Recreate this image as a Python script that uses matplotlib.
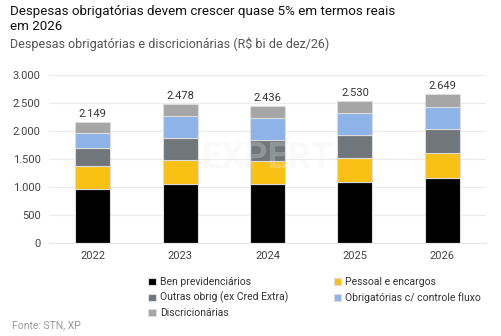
import numpy as np
import matplotlib.pyplot as plt
from matplotlib.ticker import FuncFormatter

plt.rcParams['font.family'] = ['Roboto', 'DejaVu Sans']

years = ["2022", "2023", "2024", "2025", "2026"]
ben_previdenciarios = [965, 1043, 1043, 1090, 1150]
pessoal_encargos = [410, 428, 416, 422, 446]
outras_obrig = [311, 404, 370, 411, 440]
obrig_controle_fluxo = [273, 382, 392, 393, 393]
discricionarias = [190, 221, 215, 214, 220]
totals = [2149, 2478, 2436, 2530, 2649]

series = [
    ("Ben previdenciários", ben_previdenciarios, "#000000"),
    ("Pessoal e encargos", pessoal_encargos, "#F9C114"),
    ("Outras obrig (ex Cred Extra)", outras_obrig, "#70767A"),
    ("Obrigatórias c/ controle fluxo", obrig_controle_fluxo, "#8DB3E8"),
    ("Discricionárias", discricionarias, "#A6A6A6"),
]

fig = plt.figure(figsize=(5.02, 3.36), dpi=100)
ax = fig.add_axes([49 / 502, (336 - 242.7) / 336, 437 / 502, 168 / 336])

x = np.arange(len(years))
bottom = np.zeros(len(years))
handles = {}
for name, vals, color in series:
    vals = np.array(vals, dtype=float)
    b = ax.bar(x, vals, width=0.4, bottom=bottom, color=color,
               edgecolor="#dcdcdc", linewidth=0.8, zorder=2)
    handles[name] = b
    bottom += vals

for xi, tot, top in zip(x, totals, bottom):
    ax.text(xi, top + 55, f"{tot:,}".replace(",", "."), ha="center", va="bottom",
            fontsize=8, color="#333333")

ax.set_xlim(-0.5, 4.5)
ax.set_ylim(0, 3000)
ax.set_yticks(np.arange(0, 3001, 500))
ax.yaxis.set_major_formatter(FuncFormatter(lambda v, p: f"{int(v):,}".replace(",", ".")))
ax.set_xticks(x)
ax.set_xticklabels(years)
ax.tick_params(axis="both", length=0, labelsize=8, labelcolor="#444444")
ax.tick_params(axis="x", pad=6)
ax.tick_params(axis="y", pad=6)
ax.grid(axis="y", color="#ebebeb", linewidth=0.8, zorder=0)
for side in ["top", "right", "left"]:
    ax.spines[side].set_visible(False)
ax.spines["bottom"].set_color("#e6e6e6")

# faint watermark
ax.text(2.0, 1520, "EXPERT", ha="center", va="center", fontsize=26, fontweight="bold",
        color="#eeeeee", alpha=0.25, zorder=3)

order = ["Ben previdenciários", "Outras obrig (ex Cred Extra)", "Discricionárias",
         "Pessoal e encargos", "Obrigatórias c/ controle fluxo"]
leg = fig.legend([handles[n] for n in order], order, ncol=2, loc="upper left",
                 bbox_to_anchor=(143 / 502, 1 - 272 / 336), frameon=False,
                 fontsize=7.5, handlelength=0.7, handleheight=0.7, handletextpad=0.4,
                 columnspacing=4.4, labelspacing=0.45, borderpad=0)
for t in leg.get_texts():
    t.set_color("#333333")

fig.text(10 / 502, 1 - 5 / 336, "Despesas obrigatórias devem crescer quase 5% em termos reais\nem 2026",
         fontsize=9.6, color="#111111", va="top", linespacing=1.2)
fig.text(10 / 502, 1 - 48 / 336, "Despesas obrigatórias e discricionárias (R$ bi de dez/26)",
         fontsize=9, color="#555555", va="baseline")
fig.text(12 / 502, 1 - 328 / 336, "Fonte: STN, XP", fontsize=7.5, color="#999999", va="baseline")

fig.savefig("out.png", dpi=100)
